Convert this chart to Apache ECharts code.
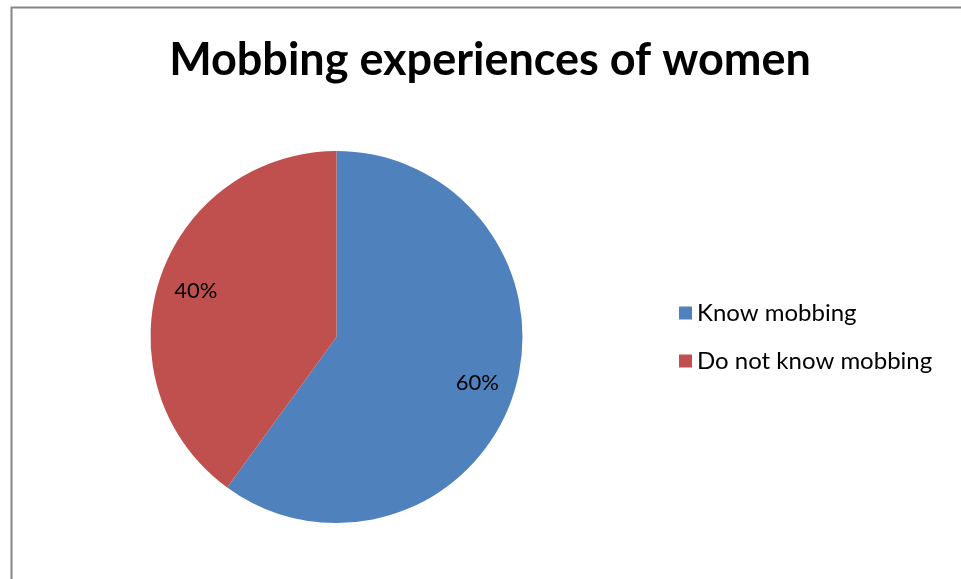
<!DOCTYPE html>
<html>
<head>
<meta charset="utf-8">
<script src="https://cdn.jsdelivr.net/npm/echarts@6/dist/echarts.min.js"></script>
<style>
  html, body { margin: 0; padding: 0; background: #fff; }
  #chart { width: 961px; height: 579px; }
</style>
</head>
<body>
<div id="chart"></div>
<script>
const categories = ["Know mobbing", "Do not know mobbing"];
const values = [60, 40];
const colors = ["#4F81BD", "#C0504D"];

const chart = echarts.init(document.getElementById("chart"));

const pieData = categories.map((name, i) => ({
  name: name,
  value: values[i],
  itemStyle: { color: colors[i] },
}));

const option = {
  animation: false,
  title: {
    text: "Mobbing experiences of women",
    left: 485,
    textAlign: "center",
    top: 33,
    textStyle: {
      fontFamily: "Lato",
      fontWeight: "bold",
      fontSize: 45,
      color: "#000",
    },
  },
  legend: {
    orient: "vertical",
    left: 674,
    top: 296,
    itemWidth: 13,
    itemHeight: 13,
    itemGap: 24,
    icon: "rect",
    data: categories,
    textStyle: { fontFamily: "Lato", fontSize: 24, color: "#000" },
  },
  graphic: [
    {
      type: "rect",
      shape: { x: 11.5, y: 7.5, width: 1000, height: 1000 },
      style: { fill: "none", stroke: "#868686", lineWidth: 2 },
      silent: true,
    },
  ],
  series: [
    {
      // the visible pie
      type: "pie",
      center: [336.5, 337],
      radius: [0, 186],
      startAngle: 90,
      clockwise: true,
      label: { show: false },
      labelLine: { show: false },
      emphasis: { disabled: true },
      data: pieData,
    },
    {
      // transparent pie, only used to place the percent labels
      type: "pie",
      center: [336.5, 337],
      radius: [0, 290],
      startAngle: 90,
      clockwise: true,
      silent: true,
      emphasis: { disabled: true },
      itemStyle: { color: "rgba(0,0,0,0)" },
      label: {
        show: true,
        position: "inside",
        formatter: "{d}%",
        fontFamily: "Lato",
        fontSize: 22,
        color: "#000",
      },
      labelLine: { show: false },
      data: categories.map((name, i) => ({ name: name, value: values[i] })),
    },
  ],
};

chart.setOption(option);
</script>
</body>
</html>
